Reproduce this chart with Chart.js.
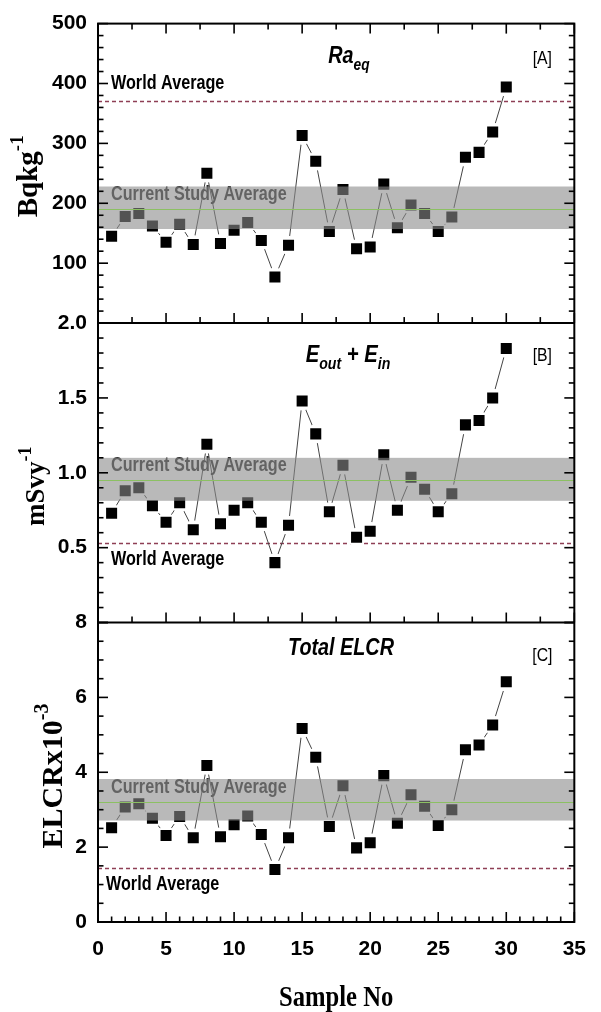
<!DOCTYPE html>
<html><head><meta charset="utf-8">
<script src="https://cdn.jsdelivr.net/npm/chart.js@4/dist/chart.umd.min.js"></script>
<style>html,body{margin:0;padding:0;background:#fff;}#wrap{width:601px;height:1012px;position:relative;}</style>
</head><body><div id="wrap"><canvas id="c" width="601" height="1012"></canvas></div>
<script>
// ---------------- data ----------------
const samples = [1,2,3,4,5,6,7,8,9,10,11,12,13,14,15,16,17,18,19,20,21,22,23,24,25,26,27,28,29,30];
const raEq = [145,178,183,162,135,165,131,250,133,155,168,138,77,130,313,270,153,223,124,127,232,159,197,183,153,177,277,285,319,394];
const dose = [0.73,0.88,0.90,0.78,0.67,0.80,0.62,1.19,0.66,0.75,0.80,0.67,0.40,0.65,1.48,1.26,0.74,1.05,0.57,0.61,1.12,0.75,0.97,0.89,0.74,0.86,1.32,1.35,1.50,1.83];
const elcr = [2.52,3.07,3.16,2.77,2.31,2.82,2.25,4.18,2.28,2.60,2.83,2.34,1.40,2.25,5.17,4.40,2.55,3.64,1.98,2.12,3.91,2.64,3.40,3.09,2.58,3.00,4.60,4.73,5.26,6.42];
const worldAvg = [370, 0.53, 1.45];
const studyMean = [191, 0.953, 3.2];
const studyLow = [157, 0.813, 2.71];
const studyHigh = [228, 1.10, 3.82];
const xTickLabels = [0,5,10,15,20,25,30,35];
const yMaxes = [500, 2, 8];
const yMajorSteps = [100, 0.5, 2];
const yMinorSteps = [20, 0.1, 0.5];
const panelTags = ['[A]','[B]','[C]'];
const panelKeys = ['yA','yB','yC'];
const seriesList = [raEq, dose, elcr];

const SANS = "'Liberation Sans Narrow','Liberation Sans',Arial,sans-serif";
const SERIF = "'Liberation Serif','Times New Roman',serif";
const COND = 0.83; // horizontal condensing to mimic a narrow face

function pts(arr){ return samples.map((s,i)=>({x:s, y:arr[i]})); }

const datasets = [];
panelKeys.forEach((k,i)=>{
  datasets.push({ // black square markers (on top)
    data: pts(seriesList[i]), yAxisID:k, order:0, showLine:false,
    pointStyle:'rect', pointRadius:7.8, pointHoverRadius:7.8,
    pointBackgroundColor:'#000', pointBorderWidth:0, borderWidth:0
  });
  datasets.push({ // connecting line with white gaps around markers
    data: pts(seriesList[i]), yAxisID:k, order:1, showLine:true,
    borderColor:'#444', borderWidth:1, tension:0,
    pointStyle:'circle', pointRadius:9.5, pointHoverRadius:9.5,
    pointBackgroundColor:'#fff', pointBorderWidth:0
  });
});

// draw text parts, optionally horizontally condensed
function richText(ctx, parts, x, y, align, sx){
  sx = sx || 1;
  let w = 0;
  parts.forEach(p=>{ ctx.font=p.font; p.w=ctx.measureText(p.t).width; w+=p.w; });
  ctx.save(); ctx.translate(x, y); ctx.scale(sx, 1);
  let cx = align==='center' ? -w/2 : 0;
  ctx.textAlign = 'left';
  parts.forEach(p=>{ ctx.font=p.font; ctx.fillText(p.t, cx, (p.dy||0)); cx += p.w; });
  ctx.restore();
}

const deco = {
  id:'deco',
  beforeDatasetsDraw(chart){
    const ctx = chart.ctx, xs = chart.scales.x;
    panelKeys.forEach((k,i)=>{
      const y = Math.round(chart.scales[k].getPixelForValue(worldAvg[i]))+0.5;
      ctx.save(); ctx.strokeStyle='#8e3f55'; ctx.lineWidth=1.4; ctx.setLineDash([4,3]);
      ctx.beginPath(); ctx.moveTo(xs.left, y); ctx.lineTo(xs.right, y); ctx.stroke(); ctx.restore();
    });
  },
  afterDatasetsDraw(chart){
    const ctx = chart.ctx, xs = chart.scales.x;
    const L = xs.left, R = xs.right;
    ctx.save();
    // current study average text (under the translucent band)
    ctx.fillStyle = '#2a2a2a'; ctx.textBaseline='middle';
    const lab = "bold 19.5px "+SANS;
    const csaY = [215, 1.047, 3.6];
    panelKeys.forEach((k,i)=>{
      richText(ctx, [{t:'Current Study Average', font:lab}], L+13, chart.scales[k].getPixelForValue(csaY[i]), 'left', COND);
    });
    // band + mean line
    panelKeys.forEach((k,i)=>{
      const ys = chart.scales[k];
      const y1 = ys.getPixelForValue(studyHigh[i]), y2 = ys.getPixelForValue(studyLow[i]);
      ctx.fillStyle = 'rgba(138,138,138,0.6)';
      ctx.fillRect(L, y1, R-L, y2-y1);
      const ym = Math.round(ys.getPixelForValue(studyMean[i]))+0.5;
      ctx.strokeStyle = '#8cc063'; ctx.lineWidth = 1.2;
      ctx.beginPath(); ctx.moveTo(L, ym); ctx.lineTo(R, ym); ctx.stroke();
    });
    // ticks
    ctx.strokeStyle = '#000'; ctx.lineWidth = 1.6;
    function hline(x1,x2,y){ ctx.beginPath(); ctx.moveTo(x1,y); ctx.lineTo(x2,y); ctx.stroke(); }
    function vline(x,y1,y2){ ctx.beginPath(); ctx.moveTo(x,y1); ctx.lineTo(x,y2); ctx.stroke(); }
    panelKeys.forEach((k,i)=>{
      const ys = chart.scales[k];
      for (let v=0; v<=yMaxes[i]+1e-9; v+=yMinorSteps[i]) {
        const major = Math.abs(v/yMajorSteps[i] - Math.round(v/yMajorSteps[i])) < 1e-6;
        const y = ys.getPixelForValue(v); const len = major ? 10 : 5.5;
        hline(L, L+len, y); hline(R-len, R, y);
      }
      const bottom = ys.getPixelForValue(0);
      const minorX = i===2 ? 1 : 2.5;
      for (let v=0; v<=35+1e-9; v+=minorX) {
        const major = Math.abs(v/5 - Math.round(v/5)) < 1e-6;
        const x = xs.getPixelForValue(v); const len = major ? 10 : (i===2?5.5:6);
        vline(x, bottom, bottom-len);
        if (i===0) { const top = ys.getPixelForValue(yMaxes[0]); vline(x, top, top+len); }
      }
    });
    // frame
    ctx.lineWidth = 2;
    const T = chart.scales.yA.getPixelForValue(500), B = chart.scales.yC.getPixelForValue(0);
    ctx.strokeRect(L, T, R-L, B-T);
    hline(L, R, chart.scales.yA.getPixelForValue(0));
    hline(L, R, chart.scales.yB.getPixelForValue(0));
    // world average labels
    ctx.fillStyle = '#000'; ctx.textBaseline='middle';
    const waY = [400, 0.42, 1.0];
    const waX = [13, 13, 8];
    panelKeys.forEach((k,i)=>{
      richText(ctx, [{t:'World Average', font:lab}], L+waX[i], chart.scales[k].getPixelForValue(waY[i]), 'left', COND);
    });
    // panel tags
    const tagY = [442, 1.78, 7.12];
    panelKeys.forEach((k,i)=>{
      richText(ctx, [{t:panelTags[i], font:"19px "+SANS}], R-32, chart.scales[k].getPixelForValue(tagY[i]), 'center', COND);
    });
    // panel titles
    ctx.textBaseline='alphabetic';
    const big = "italic bold 23px "+SANS, sub = "italic bold 16px "+SANS;
    richText(ctx, [{t:'Ra',font:big},{t:'eq',font:sub,dy:7}], 349, chart.scales.yA.getPixelForValue(500)+39, 'center', 0.86);
    richText(ctx, [{t:'E',font:big},{t:'out',font:sub,dy:7},{t:' + E',font:big},{t:'in',font:sub,dy:7}], 348, chart.scales.yB.getPixelForValue(2)+39, 'center', 0.88);
    richText(ctx, [{t:'Total ELCR',font:big}], 341, chart.scales.yC.getPixelForValue(8)+32, 'center', 0.86);
    // axis titles
    richText(ctx, [{t:'Sample No', font:"bold 29px "+SERIF}], (L+R)/2, 1006, 'center', 0.85);
    function yTitle(parts, x, y){
      ctx.save(); ctx.translate(x, y); ctx.rotate(-Math.PI/2);
      richText(ctx, parts, 0, 0, 'center', 1); ctx.restore();
    }
    yTitle([{t:'Bqkg',font:"bold 29px "+SERIF},{t:'-1',font:"bold 19px "+SERIF,dy:-14}], 37, chart.scales.yA.getPixelForValue(245));
    yTitle([{t:'mSvy',font:"bold 27px "+SERIF},{t:'-1',font:"bold 18px "+SERIF,dy:-13}], 44, chart.scales.yB.getPixelForValue(0.91));
    yTitle([{t:'ELCRx10',font:"bold 30px "+SERIF},{t:'-3',font:"bold 20px "+SERIF,dy:-14}], 62, chart.scales.yC.getPixelForValue(3.9));
    ctx.restore();
  }
};

function yScale(i, weight){
  return {
    type:'linear', position:'left', stack:'panels', stackWeight:1, weight:weight,
    min:0, max:yMaxes[i],
    grid:{display:false, drawTicks:false}, border:{display:false},
    ticks:{
      stepSize:yMajorSteps[i], padding:11, color:'#000',
      font:{family:SANS, size:21, weight:'bold'},
      callback:(v)=>{
        if (i===0) return v===0 ? '' : String(v);
        if (i===1) return v===0 ? '' : v.toFixed(1);
        return String(v);
      }
    },
    afterFit:(s)=>{ s.width = 98; }
  };
}

new Chart(document.getElementById('c'), {
  type:'scatter',
  data:{datasets},
  options:{
    responsive:false, animation:false, devicePixelRatio:1,
    events:[],
    layout:{padding:{top:22, right:13, left:0, bottom:0}},
    plugins:{legend:{display:false}, tooltip:{enabled:false}},
    scales:{
      x:{
        type:'linear', position:'bottom', min:0, max:35,
        grid:{display:false, drawTicks:false}, border:{display:false},
        afterBuildTicks:(s)=>{ s.ticks = xTickLabels.map(v=>({value:v})); },
        ticks:{color:'#000', padding:15, font:{family:SANS, size:21, weight:'bold'}, maxRotation:0},
        afterFit:(s)=>{ s.height = 90; }
      },
      yA: yScale(0, 3),
      yB: yScale(1, 2),
      yC: yScale(2, 1)
    }
  },
  plugins:[deco]
});
</script></body></html>
